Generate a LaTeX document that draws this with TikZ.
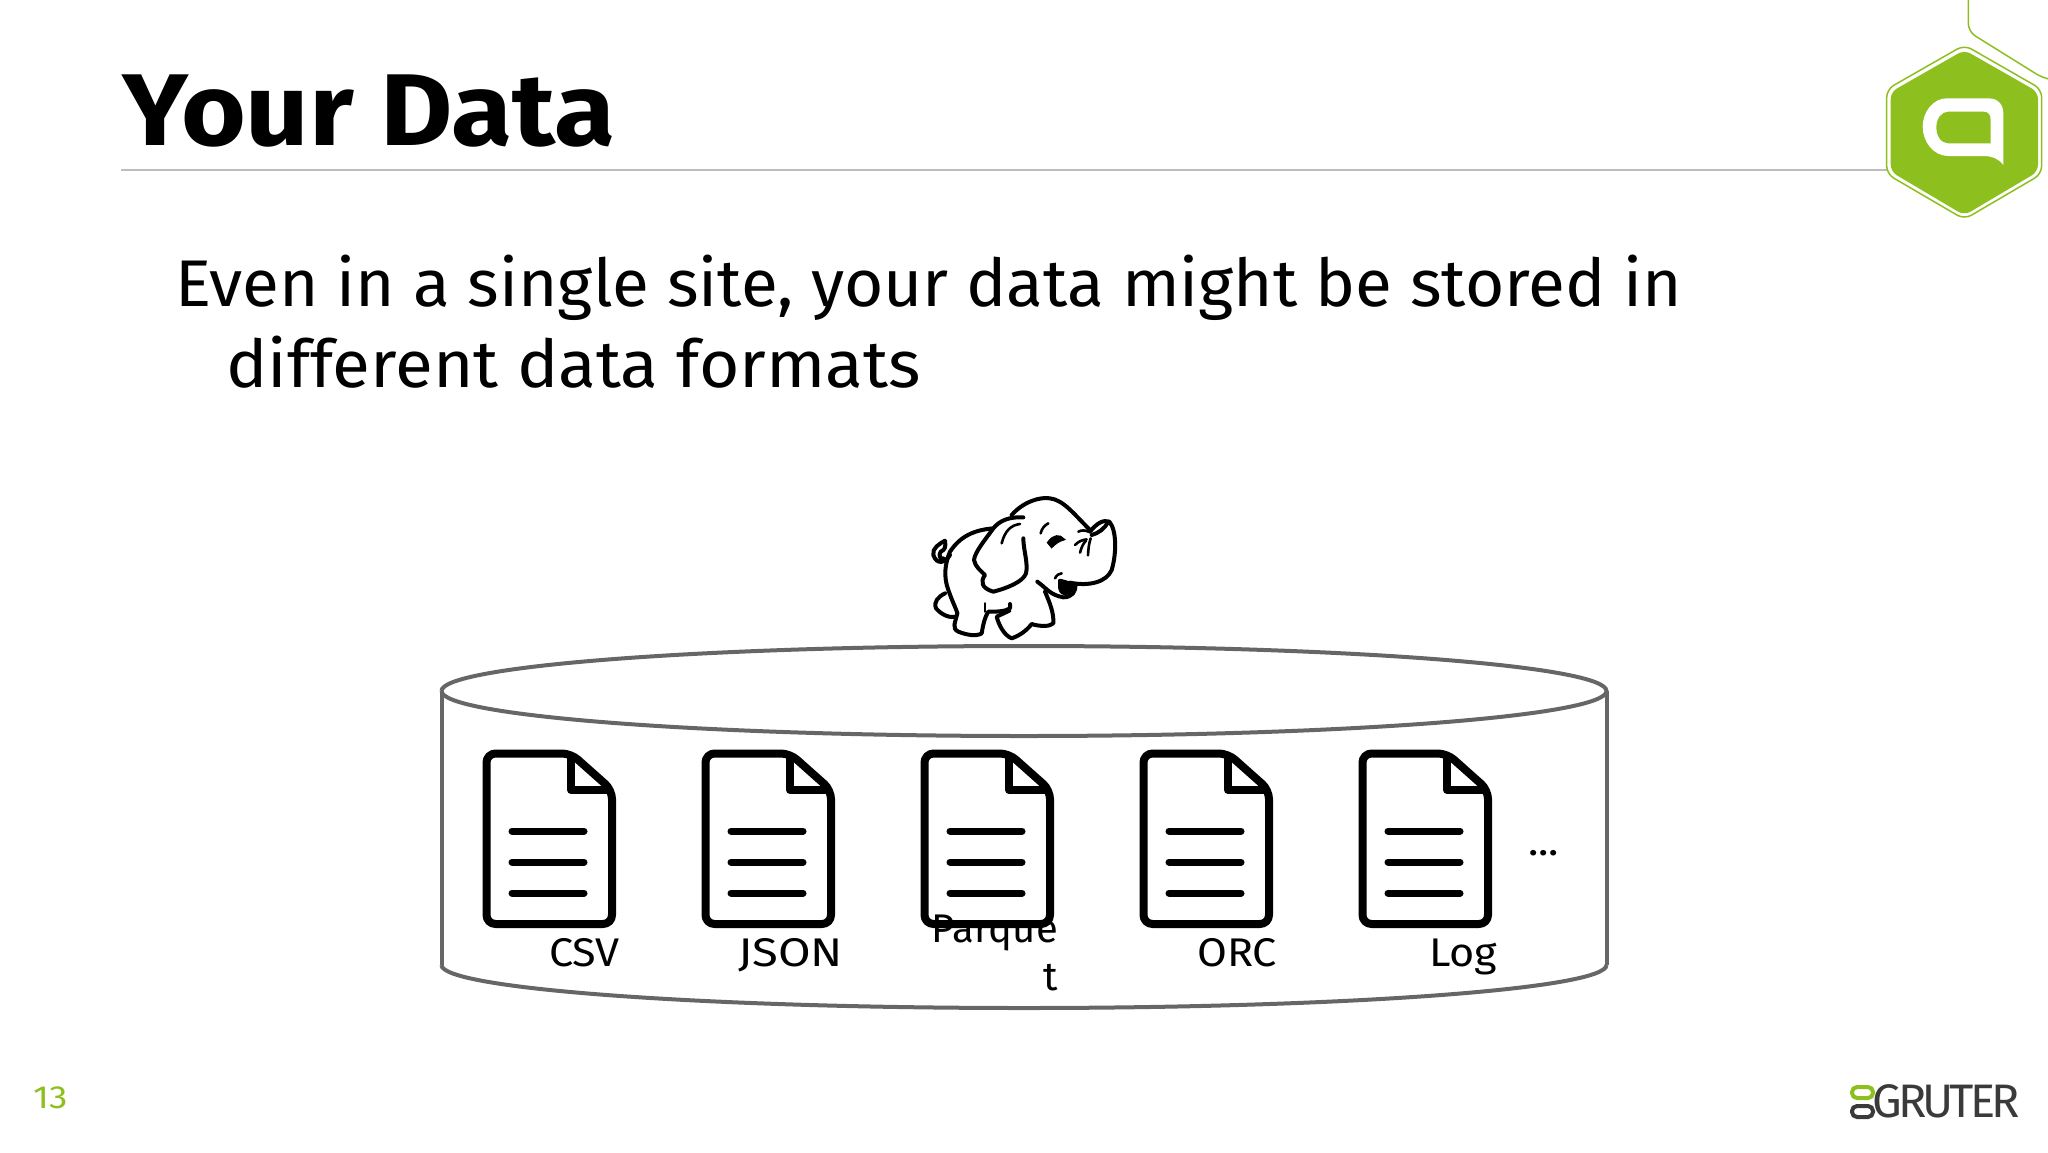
\documentclass[tikz,border=0pt]{standalone}
\usepackage{fontspec}
\setmainfont{Fira Sans}
\definecolor{hexgreen}{HTML}{8DBF1F}
\definecolor{edgegray}{HTML}{666666}
\definecolor{rulegray}{HTML}{BDBDBD}
\definecolor{logodark}{HTML}{3A3A3A}
\tikzset{
	bodytext/.style = {anchor = base west, inner sep = 0pt, font = \fontsize{66}{66}\selectfont\addfontfeature{FakeStretch = 1.022}},
	fmtlabel/.style = {anchor = base west, inner sep = 0pt, font = \fontsize{40}{48}\selectfont\addfontfeature{FakeStretch = 1.08}},
	edge/.style = {draw = edgegray, line width = 4pt},
	ink/.style = {line width = 4pt, line cap = round, line join = round},
	thin ink/.style = {line width = 2.6pt, line cap = round},
	docicon/.pic = {
		\draw [line width = 8pt, line join = round, rounded corners = 9pt] (3.5, 3.5) -- (88, 3.5) -- (129, 40) -- (129, 174) -- (3.5, 174) -- cycle;
		\draw [line width = 8pt, line join = round] (88, 3.5) -- (88, 40) -- (129, 40);
		\draw [line width = 7pt, line cap = round] (29, 81) -- (101, 81);
		\draw [line width = 7pt, line cap = round] (29, 112) -- (101, 112);
		\draw [line width = 7pt, line cap = round] (29, 143) -- (101, 143);
	}
}
\begin{document}
\begin{tikzpicture}[x = 1pt, y = -1pt]
	\useasboundingbox (0, 0) rectangle (2048, 1152);

	\draw [rulegray, line width = 1.5pt] (121, 170) -- (1887, 170);
	\node [anchor = base west, inner sep = 0pt, font = \fontsize{102}{102}\bfseries\addfontfeature{FakeStretch = 1.09}] (title) at (122, 145) {Your Data};
	\node [bodytext] (line1) at (175, 306) {Even in a single site, your data might be stored in};
	\node [bodytext, font = \fontsize{66}{66}\selectfont\addfontfeature{FakeStretch = 1.05}] (line2) at (226, 387) {different data formats};

	% cylinder
	\coordinate (c1) at (441.5, 691);
	\coordinate (c2) at (1606.5, 691);
	\coordinate (c3) at (1606.5, 965);
	\coordinate (c4) at (441.5, 965);
	\draw [edge] (c1) arc [start angle = 180, end angle = -180, x radius = 582.5, y radius = 45];
	\draw [edge] (c1) -- (c4);
	\draw [edge] (c2) -- (c3);
	\draw [edge] (c4) arc [start angle = 180, end angle = 0, x radius = 582.5, y radius = 43];

	% files
	\coordinate (d1) at (483, 750);
	\coordinate (d2) at (702, 750);
	\coordinate (d3) at (921, 750);
	\coordinate (d4) at (1140, 750);
	\coordinate (d5) at (1359, 750);
	\pic at (d1) {docicon};
	\pic at (d2) {docicon};
	\pic at (d3) {docicon};
	\pic at (d4) {docicon};
	\pic at (d5) {docicon};

	\node [fmtlabel] (csv) at (549, 966) {CSV};
	\node [fmtlabel, font = \fontsize{40}{48}\selectfont\addfontfeature{FakeStretch = 1.18}] (json) at (738, 966) {JSON};
	\node [anchor = north east, align = right, inner sep = 0pt, font = \fontsize{40}{48}\selectfont] (parquet) at (1058, 915) {Parque\\t};
	\node [fmtlabel] (orc) at (1197, 966) {ORC};
	\node [fmtlabel] (log) at (1429, 966) {Log};
	\node [fmtlabel] (more) at (1528, 855) {...};

	% elephant
	\begin{scope}[shift = {(900, 480)}, x = 1/3*1pt, y = -1/3*1pt]
		\draw [ink] (335, 105) .. controls (370, 65) and (420, 50) .. (450, 55) .. controls (490, 60) and (520, 100) .. (570, 150);
		\draw [ink] (570, 155) .. controls (590, 130) and (610, 118) .. (628, 125) .. controls (650, 150) and (650, 220) .. (635, 270) .. controls (620, 305) and (570, 320) .. (510, 308);
		\draw [ink] (412, 305) .. controls (440, 325) and (450, 345) .. (490, 352) .. controls (515, 352) and (530, 335) .. (525, 312);
		\draw [ink, fill = black] (480, 302) .. controls (482, 320) and (475, 335) .. (495, 340) .. controls (510, 340) and (520, 325) .. (522, 314) -- cycle;
		\draw [thin ink] (465, 295) .. controls (470, 285) and (478, 280) .. (485, 280);
		\draw [ink] (370, 112) .. controls (330, 110) and (300, 120) .. (280, 145) .. controls (255, 180) and (225, 215) .. (222, 240) .. controls (225, 260) and (245, 275) .. (255, 285) .. controls (240, 305) and (245, 325) .. (280, 335) .. controls (320, 325) and (370, 305) .. (378, 280) .. controls (385, 250) and (370, 210) .. (370, 175);
		\draw [thin ink] (360, 132) .. controls (335, 135) and (315, 150) .. (305, 190);
		\draw [ink] (280, 145) .. controls (220, 150) and (180, 170) .. (150, 215) .. controls (135, 250) and (130, 290) .. (145, 330) .. controls (155, 360) and (170, 390) .. (172, 400);
		\draw [ink] (150, 225) .. controls (135, 250) and (110, 255) .. (100, 225) .. controls (95, 205) and (120, 190) .. (135, 182) .. controls (138, 200) and (135, 210) .. (122, 215) .. controls (115, 225) and (120, 240) .. (130, 235);
		\draw [ink] (135, 340) .. controls (115, 350) and (100, 365) .. (108, 385) .. controls (125, 405) and (150, 415) .. (168, 410);
		\draw [ink] (172, 400) .. controls (165, 430) and (155, 445) .. (175, 455) .. controls (200, 465) and (230, 470) .. (245, 460) .. controls (250, 430) and (255, 410) .. (265, 395) .. controls (290, 395) and (315, 395) .. (330, 385) -- (330, 372);
		\draw [ink] (328, 392) -- (290, 410) .. controls (295, 430) and (310, 465) .. (335, 475) .. controls (365, 465) and (385, 445) .. (395, 432) .. controls (420, 440) and (450, 440) .. (460, 430) .. controls (462, 400) and (450, 370) .. (435, 335);
		\draw [thin ink] (255, 370) -- (255, 395);
		\draw [thin ink, fill = black] (445, 188) .. controls (460, 165) and (480, 165) .. (490, 178) .. controls (475, 182) and (465, 190) .. (455, 200) -- cycle;
		\draw [thin ink] (422, 160) .. controls (425, 145) and (435, 135) .. (445, 130);
		\draw [thin ink] (535, 155) .. controls (545, 150) and (555, 150) .. (565, 155);
		\draw [thin ink] (525, 195) .. controls (535, 185) and (545, 180) .. (560, 178);
		\draw [thin ink] (540, 218) .. controls (545, 200) and (550, 190) .. (558, 182);
		\draw [thin ink] (564, 226) .. controls (565, 205) and (567, 190) .. (572, 175);
		\draw [ink] (575, 165) .. controls (595, 160) and (615, 145) .. (625, 125);
	\end{scope}

	% hexagon logo
	\begin{scope}[shift = {(1820, 0)}, x = 1/3*1pt, y = -1/3*1pt]
		\draw [hexgreen, line width = 1.5pt, rounded corners = 8pt] (445, 0) -- (445, 95) -- (670, 235) -- (690, 238);
		\draw [hexgreen, line width = 1.5pt, rounded corners = 8pt] (433, 135) -- (665, 268) -- (665, 522) -- (433, 658) -- (200, 522) -- (200, 268) -- cycle;
		\fill [hexgreen, rounded corners = 7pt] (433, 150) -- (654, 276) -- (654, 515) -- (433, 646) -- (212, 515) -- (212, 276) -- cycle;
		\fill [white] (380, 295) -- (505, 295) .. controls (535, 295) and (550, 315) .. (550, 340) -- (550, 495) .. controls (535, 475) and (515, 468) .. (490, 468) -- (385, 468) .. controls (340, 468) and (308, 425) .. (308, 380) .. controls (308, 335) and (340, 295) .. (380, 295) -- cycle;
		\fill [hexgreen] (385, 335) -- (490, 335) .. controls (505, 335) and (512, 345) .. (512, 360) -- (512, 430) -- (385, 430) .. controls (365, 430) and (349, 410) .. (349, 382) .. controls (349, 355) and (365, 335) .. (385, 335) -- cycle;
	\end{scope}

	% footer
	\node [anchor = base west, inner sep = 0pt, text = hexgreen, font = \fontsize{32}{32}\selectfont\addfontfeature{FakeStretch = 1.15}] (page) at (33, 1108) {13};
	\draw [hexgreen, line width = 4pt, rounded corners = 5pt] (1852, 1087) rectangle (1873, 1098);
	\draw [logodark, line width = 4pt, rounded corners = 5pt] (1852, 1106) rectangle (1873, 1117);
	\node [anchor = base west, inner sep = 0pt, text = logodark, font = \fontsize{47}{47}\selectfont\addfontfeature{LetterSpace = -8}] (gruter) at (1872, 1117) {GRUTER};
\end{tikzpicture}
\end{document}
